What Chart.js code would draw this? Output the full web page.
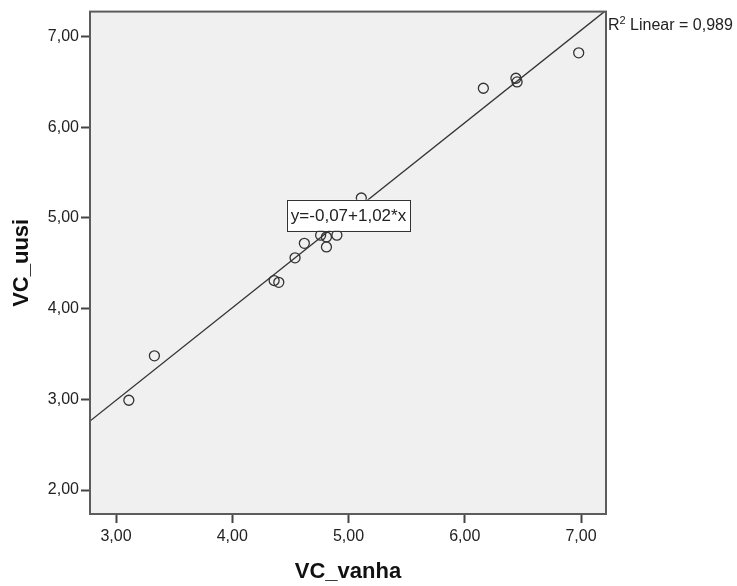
<!DOCTYPE html>
<html>
<head>
<meta charset="utf-8">
<script src="https://cdn.jsdelivr.net/npm/chart.js@4"></script>
<style>
  html, body { margin: 0; padding: 0; background: #fff; }
  #wrap { width: 737px; height: 586px; }
</style>
</head>
<body>
<div id="wrap"><canvas id="myChart" width="737" height="586"></canvas></div>
<script>
// observed values
const vcVanha = [3.11, 3.33, 4.36, 4.40, 4.54, 4.62, 4.76, 4.81, 4.81, 4.90, 5.11, 6.16, 6.44, 6.45, 6.98];
const vcUusi  = [2.99, 3.48, 4.31, 4.29, 4.56, 4.72, 4.81, 4.79, 4.68, 4.81, 5.22, 6.43, 6.54, 6.50, 6.82];

// fitted line and its stats
const intercept = -0.07;
const slope = 1.02;
const rSquared = 0.989;

// axes
const xTicks = [3, 4, 5, 6, 7];
const yTicks = [2, 3, 4, 5, 6, 7];
const xRange = [2.776, 7.215];
const yRange = [1.736, 7.275];

const FONT = 'Arial, "Liberation Sans", sans-serif';
const fmt = v => v.toFixed(2).replace('.', ',');

const points = vcVanha.map((x, i) => ({ x: x, y: vcUusi[i] }));
const fitLine = xRange.map(x => ({ x: x, y: intercept + slope * x }));

// grey plot background + frame, equation box and R2 text
const spssFrame = {
    id: 'spssFrame',
    beforeDatasetsDraw(chart) {
        const a = chart.chartArea, c = chart.ctx;
        c.save();
        c.fillStyle = '#f0f0f0';
        c.fillRect(a.left, a.top, a.right - a.left, a.bottom - a.top);
        c.restore();
    },
    afterDraw(chart) {
        const a = chart.chartArea, c = chart.ctx;
        const xs = chart.scales.x, ys = chart.scales.y;
        c.save();
        c.strokeStyle = '#5c5c5c';
        c.lineWidth = 2;
        c.strokeRect(a.left, a.top, a.right - a.left, a.bottom - a.top);

        // equation label
        const eq = 'y=' + fmt(intercept) + '+' + fmt(slope) + '*x';
        c.font = '17px ' + FONT;
        const w = c.measureText(eq).width + 8;
        const cx = xs.getPixelForValue(5.0), cy = ys.getPixelForValue(5.03);
        c.fillStyle = '#fff';
        c.fillRect(cx - w / 2, cy - 15.5, w, 31);
        c.strokeStyle = '#333';
        c.lineWidth = 1;
        c.strokeRect(Math.round(cx - w / 2) + 0.5, Math.round(cy - 15.5) + 0.5, Math.round(w), 31);
        c.fillStyle = '#222';
        c.textBaseline = 'middle';
        c.textAlign = 'center';
        c.fillText(eq, cx, cy + 1);

        // R2 text beside the top right corner
        let tx = a.right + 2;
        const ty = a.top + 13;
        c.textAlign = 'left';
        c.textBaseline = 'alphabetic';
        c.font = '16px ' + FONT;
        c.fillText('R', tx, ty + 5);
        tx += c.measureText('R').width;
        c.font = '11px ' + FONT;
        c.fillText('2', tx, ty - 1);
        tx += c.measureText('2').width;
        c.font = '16px ' + FONT;
        c.fillText(' Linear = ' + rSquared.toFixed(3).replace('.', ','), tx, ty + 5);
        c.restore();
    }
};

const ctx = document.getElementById('myChart').getContext('2d');
const myChart = new Chart(ctx, {
    type: 'scatter',
    data: {
        datasets: [{
            label: 'VC_uusi',
            data: points,
            pointRadius: 5,
            pointBorderWidth: 1.3,
            pointBorderColor: '#333',
            pointBackgroundColor: 'rgba(0,0,0,0)'
        }, {
            label: 'Linear',
            data: fitLine,
            showLine: true,
            pointRadius: 0,
            borderColor: '#333',
            borderWidth: 1.3
        }]
    },
    options: {
        responsive: false,
        animation: false,
        layout: {
            padding: { top: 10, right: 131, left: 0, bottom: 0 }
        },
        plugins: {
            legend: { display: false },
            tooltip: { enabled: false }
        },
        scales: {
            x: {
                type: 'linear',
                min: xRange[0],
                max: xRange[1],
                afterBuildTicks: s => { s.ticks = xTicks.map(v => ({ value: v })); },
                afterFit: s => { s.height = 72; },
                grid: { drawOnChartArea: false, tickLength: 9, tickWidth: 2, tickColor: '#444' },
                border: { display: true, color: '#5c5c5c', width: 2 },
                ticks: {
                    callback: v => fmt(v),
                    color: '#222',
                    font: { family: FONT, size: 16 },
                    padding: 4,
                    maxRotation: 0
                },
                title: {
                    display: true,
                    text: 'VC_vanha',
                    color: '#111',
                    font: { family: FONT, size: 22, weight: 'bold' },
                    padding: { top: 0, bottom: 1 }
                }
            },
            y: {
                type: 'linear',
                min: yRange[0],
                max: yRange[1],
                afterBuildTicks: s => { s.ticks = yTicks.map(v => ({ value: v })); },
                afterFit: s => { s.width = 90; },
                grid: { drawOnChartArea: false, tickLength: 9, tickWidth: 2, tickColor: '#444' },
                border: { display: true, color: '#5c5c5c', width: 2 },
                ticks: {
                    callback: v => fmt(v),
                    color: '#222',
                    font: { family: FONT, size: 16 },
                    padding: 2
                },
                title: {
                    display: true,
                    text: 'VC_uusi',
                    color: '#111',
                    font: { family: FONT, size: 22, weight: 'bold' },
                    padding: { top: 9, bottom: 0 }
                }
            }
        }
    },
    plugins: [spssFrame]
});
</script>
</body>
</html>
